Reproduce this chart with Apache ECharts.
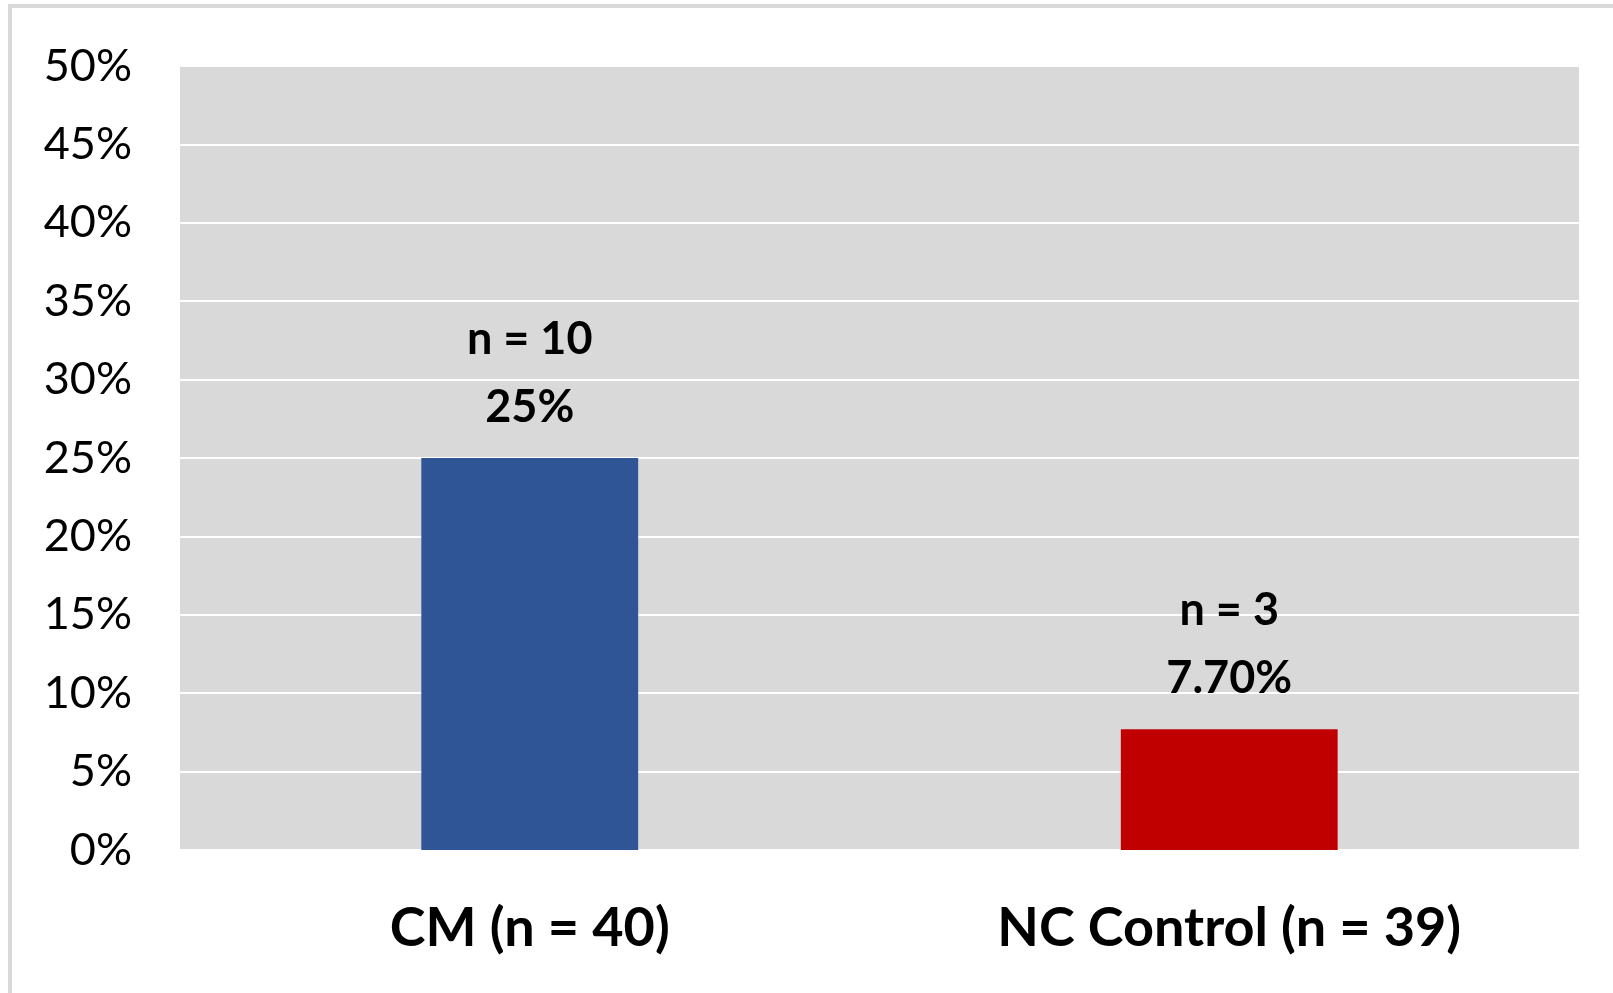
<!DOCTYPE html>
<html>
<head>
<meta charset="utf-8">
<script src="https://cdn.jsdelivr.net/npm/echarts@6/dist/echarts.min.js"></script>
<style>
html,body{margin:0;padding:0;background:#fff;}
#chart{width:1613px;height:993px;}
</style>
</head>
<body>
<div id="chart"></div>
<script>
const categories = ['CM (n = 40)', 'NC Control (n = 39)'];
const values = [25, 7.7];
const counts = [10, 3];
const valueLabels = ['25%', '7.70%'];
const barColors = ['#2F5597', '#C00000'];
const yTicks = [0, 5, 10, 15, 20, 25, 30, 35, 40, 45, 50];

const chart = echarts.init(document.getElementById('chart'), null, {renderer: 'canvas'});
const font = 'Lato, "Open Sans", sans-serif';
chart.setOption({
  backgroundColor: '#ffffff',
  animation: false,
  graphic: [{
    type: 'rect',
    shape: {x: 10, y: 6, width: 1620, height: 1010},
    style: {fill: 'none', stroke: '#d9d9d9', lineWidth: 4},
    silent: true
  }],
  grid: {
    left: 180, top: 66, right: 34, bottom: 143,
    show: true, backgroundColor: '#d9d9d9', borderWidth: 0
  },
  xAxis: {
    type: 'category',
    data: categories,
    axisLine: {show: false},
    axisTick: {show: false},
    axisLabel: {
      margin: 52,
      fontFamily: font, fontWeight: 'bold', fontSize: 54, color: '#000'
    }
  },
  yAxis: {
    type: 'value',
    min: yTicks[0], max: yTicks[yTicks.length - 1], interval: 5,
    axisLine: {show: false},
    axisTick: {show: false},
    splitLine: {lineStyle: {color: '#ffffff', width: 2}},
    axisLabel: {
      margin: 48,
      fontFamily: font, fontSize: 45, color: '#000',
      formatter: v => v + '%'
    }
  },
  series: [{
    type: 'bar',
    barWidth: '31%',
    data: values.map((v, i) => ({value: v, itemStyle: {color: barColors[i]}})),
    label: {
      show: true,
      position: 'top',
      distance: 17,
      fontFamily: font, fontWeight: 'bold', fontSize: 45, color: '#000',
      lineHeight: 68,
      formatter: p => 'n = ' + counts[p.dataIndex] + '\n' + valueLabels[p.dataIndex]
    }
  }]
});
</script>
</body>
</html>
